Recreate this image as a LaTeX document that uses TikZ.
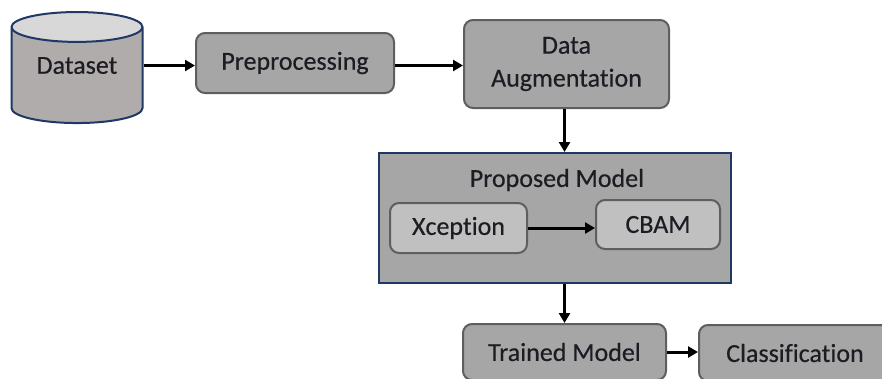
\documentclass[tikz,border=0pt]{standalone}
\usepackage{fontspec}
\setsansfont{Carlito}[Ligatures=CommonOff, FakeBold=0.4]
\usepackage{xcolor}
\usepackage{tikz}
\usetikzlibrary{arrows.meta,shapes.geometric}
\definecolor{flInk}{HTML}{1C1C22}
\definecolor{flNavy}{HTML}{1F3864}
\definecolor{flEdge}{HTML}{5E5E5E}
\definecolor{flFill}{HTML}{A6A6A6}
\definecolor{flInner}{HTML}{C0C0C0}
\definecolor{flStoreBody}{HTML}{B0ACAC}
\definecolor{flStoreTop}{HTML}{D9D8D8}
\tikzset{
  fl diagram/.style={font=\sffamily\fontsize{26}{33}\selectfont, text=flInk,
    x=1pt, y=-1pt},
  fl box/.style={draw=flEdge, fill=flFill, line width=2pt,
    rounded corners=9pt, align=center, inner sep=0pt},
  fl inner box/.style={fl box, fill=flInner},
  fl group/.style={draw=flNavy, fill=flFill, line width=2pt, inner sep=0pt},
  fl store/.style={cylinder, shape border rotate=90, aspect=0.37,
    draw=flNavy, line width=2pt, inner sep=0pt, cylinder uses custom fill,
    cylinder body fill=flStoreBody, cylinder end fill=flStoreTop},
  fl title/.style={inner sep=0pt},
  fl arrow/.style={-{Triangle[length=10pt,width=11pt]}, draw=black,
    line width=3pt}
}
\begin{document}
\begin{tikzpicture}[fl diagram]
\useasboundingbox (0,0) rectangle (882,378);
\clip (0,0) rectangle (882,378);
% input side
\node[fl store, minimum width=131pt, minimum height=111pt] (dataset) at (77,75.5) {\phantom{Dataset}};
\node[fl title] (datasettitle) at (77,65.5) {Dataset};
\node[fl box, minimum width=198pt, minimum height=60pt] (prep) at (295,63) {Preprocessing};
\node[fl box, minimum width=205pt, minimum height=88pt] (augm) at (566.5,64) {Data\\Augmentation};
% model block
\node[fl group, minimum width=352pt, minimum height=130pt] (model) at (555,218) {};
\node[fl title] (modeltitle) at (557,180) {Proposed Model};
\node[fl inner box, minimum width=137pt, minimum height=50pt] (xcep) at (458.5,228) {Xception};
\node[fl inner box, minimum width=124pt, minimum height=49pt] (cbam) at (658,224.5) {CBAM};
% output side
\node[fl box, minimum width=203pt, minimum height=56pt] (trained) at (564.5,352) {Trained Model};
\node[fl box, minimum width=192pt, minimum height=56pt] (classif) at (795,353) {Classification};
\draw[fl arrow] (datasettitle -| dataset.east) -- (datasettitle -| prep.west);
\draw[fl arrow] (datasettitle -| prep.east) -- (datasettitle -| augm.west);
\draw[fl arrow] (augm.south -| trained.north) -- (model.north -| trained.north);
\draw[fl arrow] (xcep.east) -- (xcep.east -| cbam.west);
\draw[fl arrow] (model.south -| trained.north) -- (trained.north);
\draw[fl arrow] (trained.east) -- (trained.east -| classif.west);
\end{tikzpicture}
\end{document}
